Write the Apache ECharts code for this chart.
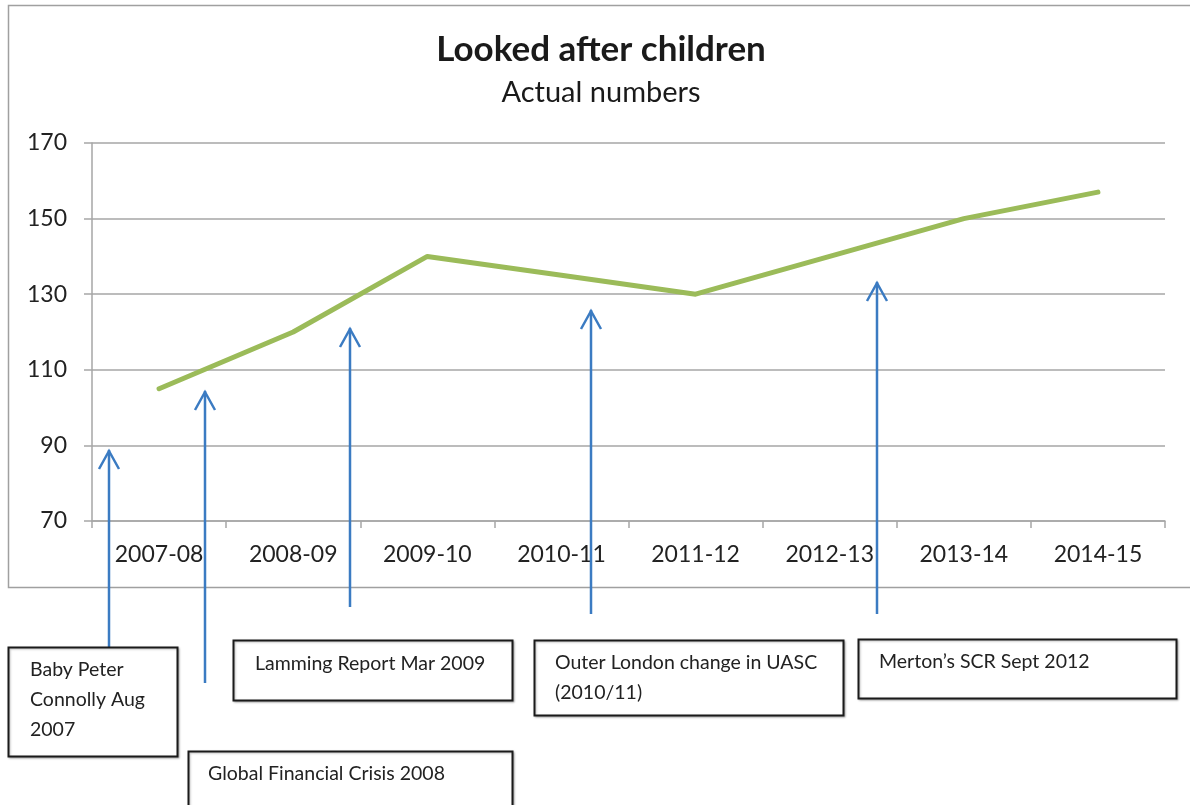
<!DOCTYPE html>
<html>
<head>
<meta charset="utf-8">
<title>Looked after children</title>
<script src="https://cdn.jsdelivr.net/npm/echarts@6/dist/echarts.min.js"></script>
<style>
  html, body { margin: 0; padding: 0; background: #ffffff; }
  #chart { width: 1190px; height: 805px; }
</style>
</head>
<body>
<div id="chart"></div>
<script>
// Financial years shown on the category axis
const years = ['2007-08', '2008-09', '2009-10', '2010-11', '2011-12', '2012-13', '2013-14', '2014-15'];
// Number of looked after children in each year
const lacCounts = [105, 120, 140, 135, 130, 140, 150, 157];
// Value axis range and step
const yMin = 70, yMax = 170, yStep = 20;

// Event notes shown beneath the chart
const eventNotes = [
  'Baby Peter\nConnolly Aug\n2007',
  'Global Financial Crisis 2008',
  'Lamming Report Mar 2009',
  'Outer London change in UASC\n(2010/11)',
  'Merton\u2019s SCR Sept 2012'
];

// Placement of each note box, its first text line centre and its pointer arrow (pixels)
const noteLayout = [
  { box: [8, 647, 169, 109], text: [30, 670], arrow: [109, 450, 647] },
  { box: [188, 751, 324, 70], text: [208, 774], arrow: [205, 391, 683] },
  { box: [233, 640, 279, 60], text: [255, 664], arrow: [350, 328, 607] },
  { box: [534, 640, 309, 75], text: [555, 663], arrow: [591, 310, 614] },
  { box: [858, 639, 318, 59], text: [879, 662], arrow: [877, 282, 614] }
];

const FONT = 'Lato, "Open Sans", sans-serif';
const GRID_GREY = '#a6a6a6';
const ARROW_BLUE = '#3b7bc2';
const NOTE_LINE_HEIGHT = 30;

const chart = echarts.init(document.getElementById('chart'), null, { renderer: 'canvas' });

const graphics = [
  // outer frame of the chart area
  {
    type: 'rect', z: 0, silent: true,
    shape: { x: 8.5, y: 5.5, width: 1190, height: 582 },
    style: { fill: 'none', stroke: '#a0a0a0', lineWidth: 1.5 }
  }
];

eventNotes.forEach((note, i) => {
  const L = noteLayout[i];
  const [ax, tipY, baseY] = L.arrow;
  graphics.push({
    type: 'line', z: 20, silent: true,
    shape: { x1: ax, y1: tipY, x2: ax, y2: baseY },
    style: { stroke: ARROW_BLUE, lineWidth: 2.5 }
  });
  graphics.push({
    type: 'polyline', z: 20, silent: true,
    shape: { points: [[ax - 10, tipY + 19], [ax, tipY + 1], [ax + 10, tipY + 19]] },
    style: { stroke: ARROW_BLUE, lineWidth: 2.5, fill: 'none', lineJoin: 'miter' }
  });
  graphics.push({
    type: 'rect', z: 21, silent: true,
    shape: { x: L.box[0] + 0.5, y: L.box[1] + 0.5, width: L.box[2], height: L.box[3] },
    style: {
      fill: '#ffffff', stroke: '#1a1a1a', lineWidth: 2,
      shadowColor: 'rgba(0,0,0,0.25)', shadowBlur: 2, shadowOffsetX: 1, shadowOffsetY: 1
    }
  });
  graphics.push({
    type: 'text', z: 22, silent: true,
    x: L.text[0], y: L.text[1] - NOTE_LINE_HEIGHT / 2,
    style: {
      text: note, fill: '#222222', font: '19.5px ' + FONT,
      lineHeight: NOTE_LINE_HEIGHT, align: 'left', verticalAlign: 'top'
    }
  });
});

chart.setOption({
  backgroundColor: '#ffffff',
  animation: false,
  title: {
    text: 'Looked after children',
    subtext: 'Actual numbers',
    left: 601, top: 30, padding: 0, textAlign: 'center', itemGap: 6,
    textStyle: { fontFamily: FONT, fontWeight: 'bold', fontSize: 35, color: '#1a1a1a', lineHeight: 40 },
    subtextStyle: { fontFamily: FONT, fontSize: 29, color: '#1a1a1a', lineHeight: 34 }
  },
  grid: { left: 92, right: 25, top: 143, bottom: 284, containLabel: false },
  xAxis: {
    type: 'category',
    data: years,
    boundaryGap: true,
    axisLine: { show: true, lineStyle: { color: GRID_GREY, width: 1.5 } },
    axisTick: { show: true, interval: 0, length: 7, alignWithLabel: false, lineStyle: { color: GRID_GREY, width: 1.5 } },
    axisLabel: { interval: 0, margin: 22, fontFamily: FONT, fontSize: 23, color: '#222222' },
    splitLine: { show: false }
  },
  yAxis: {
    type: 'value',
    min: yMin, max: yMax, interval: yStep,
    axisLine: { show: true, lineStyle: { color: GRID_GREY, width: 1.5 } },
    axisTick: { show: true, length: 8, lineStyle: { color: GRID_GREY, width: 1.5 } },
    axisLabel: { margin: 25, fontFamily: FONT, fontSize: 23, color: '#222222' },
    splitLine: { show: true, lineStyle: { color: GRID_GREY, width: 1.5 } }
  },
  series: [{
    name: 'Looked after children',
    type: 'line',
    data: lacCounts,
    showSymbol: false,
    symbol: 'none',
    z: 5,
    lineStyle: { color: '#9bbb59', width: 5, cap: 'round', join: 'round' },
    itemStyle: { color: '#9bbb59' }
  }],
  graphic: graphics
});
</script>
</body>
</html>
